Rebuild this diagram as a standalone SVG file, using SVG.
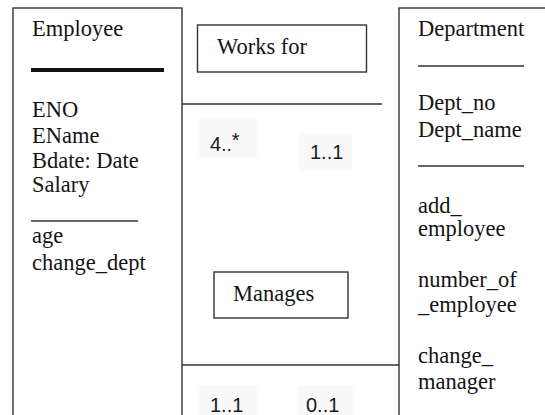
<svg xmlns="http://www.w3.org/2000/svg" width="545" height="415" viewBox="0 0 545 415">
<style>
.box{fill:#fff;stroke:#333;stroke-width:1.4}
.t{font-family:"Liberation Serif","Times New Roman",serif;font-size:22.5px;fill:#141414}
.m{font-family:"Liberation Sans",Arial,sans-serif;font-size:20px;fill:#1a1a1a}
.sep{stroke:#333;stroke-width:1.4}
.bg{fill:#f9f9f9}
</style>
<rect width="545" height="415" fill="#fff"/>
<g id="employee">
<rect class="box" x="13" y="8" width="169" height="420"/>
<text class="t" x="32" y="36">Employee</text>
<line x1="31" y1="70" x2="164" y2="70" stroke="#111" stroke-width="4"/>
<text class="t" x="32" y="117">ENO</text>
<text class="t" x="32" y="143">EName</text>
<text class="t" x="32" y="168">Bdate: Date</text>
<text class="t" x="32" y="192">Salary</text>
<line class="sep" x1="31" y1="221" x2="138" y2="221"/>
<text class="t" x="32" y="243">age</text>
<text class="t" x="32" y="270">change_dept</text>
</g>
<g id="department">
<rect class="box" x="399" y="8" width="160" height="420"/>
<text class="t" x="418" y="36">Department</text>
<line class="sep" x1="418" y1="66" x2="524" y2="66"/>
<text class="t" x="418" y="110">Dept_no</text>
<text class="t" x="418" y="137">Dept_name</text>
<line class="sep" x1="418" y1="166" x2="524" y2="166"/>
<text class="t" x="418" y="213">add_</text>
<text class="t" x="418" y="236">employee</text>
<text class="t" x="418" y="287">number_of</text>
<text class="t" x="418" y="312">_employee</text>
<text class="t" x="418" y="363">change_</text>
<text class="t" x="418" y="389">manager</text>
</g>
<g id="connectors">
<line class="sep" x1="182" y1="104" x2="382" y2="104"/>
<line class="sep" x1="182" y1="365" x2="399" y2="365"/>
</g>
<g id="works_for">
<rect class="box" x="197.5" y="25" width="169" height="47"/>
<text class="t" x="217" y="54">Works for</text>
<rect class="bg" x="199" y="118" width="58" height="40"/>
<text class="m" x="210" y="151" font-size="21">4<tspan font-size="19">..</tspan><tspan dy="-4">*</tspan></text>
<rect class="bg" x="299" y="133" width="53" height="38"/>
<text class="m" x="310" y="159">1..1</text>
</g>
<g id="manages">
<rect class="box" x="214" y="272" width="134" height="46"/>
<text class="t" x="233" y="301">Manages</text>
<rect class="bg" x="199" y="385" width="58" height="30"/>
<text class="m" x="210" y="412">1..1</text>
<rect class="bg" x="298" y="385" width="55" height="30"/>
<text class="m" x="306" y="412">0..1</text>
</g>
</svg>
